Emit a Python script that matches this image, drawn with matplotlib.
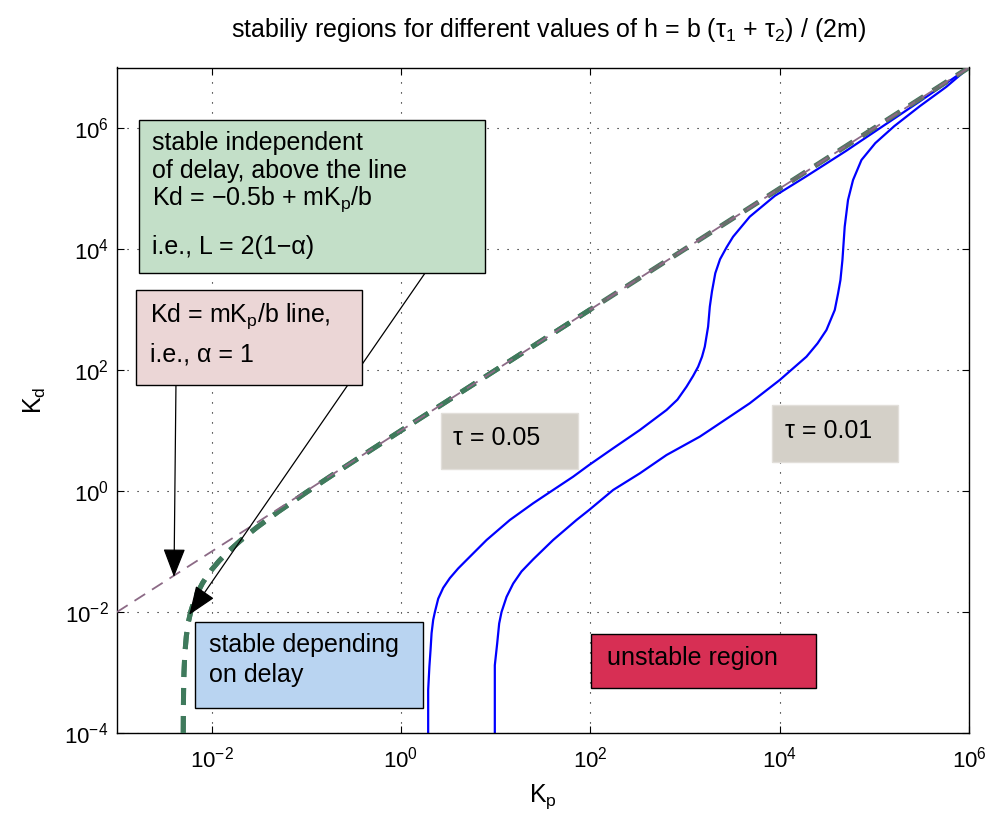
import numpy as np
import matplotlib
matplotlib.use('Agg')
import matplotlib.pyplot as plt
from matplotlib.patches import Rectangle
from matplotlib.ticker import NullLocator, FixedLocator

plt.rcParams['font.family'] = ['Liberation Sans', 'DejaVu Sans']
plt.rcParams['mathtext.fontset'] = 'custom'
plt.rcParams['mathtext.rm'] = 'Liberation Sans'
plt.rcParams['mathtext.it'] = 'Liberation Sans:italic'
plt.rcParams['mathtext.sf'] = 'Liberation Sans'

# stability boundary, tau = 0.05 (log10 Kp, log10 Kd)
tau05_logkp = [0.287, 0.287, 0.300, 0.312, 0.323, 0.340, 0.358, 0.393, 0.446, 0.516, 0.604,
               0.693, 0.904, 1.150, 1.396, 1.607, 1.818, 1.987, 2.241, 2.523, 2.805, 2.92,
               3.016, 3.085, 3.139, 3.18, 3.209, 3.244, 3.262, 3.285, 3.32, 3.37, 3.44, 3.508,
               3.684, 3.95, 4.28, 4.70, 5.09, 5.48, 6.0]
tau05_logkd = [-4.0, -3.29, -2.9, -2.63, -2.35, -2.13, -2.0, -1.78, -1.60, -1.44, -1.28,
               -1.14, -0.81, -0.479, -0.203, 0.017, 0.236, 0.430, 0.706, 1.008, 1.339, 1.51,
               1.724, 1.90, 2.055, 2.22, 2.385, 2.716, 3.046, 3.30, 3.60, 3.83, 4.03, 4.203,
               4.534, 4.88, 5.20, 5.62, 6.03, 6.44, 7.0]

# stability boundary, tau = 0.01
tau01_logkp = [0.991, 0.991, 1.016, 1.037, 1.062, 1.115, 1.185, 1.273, 1.396, 1.607, 1.854,
               1.987, 2.241, 2.523, 2.805, 3.156, 3.262, 3.684, 4.001, 4.283, 4.40, 4.494,
               4.582, 4.617, 4.642, 4.663, 4.687, 4.722, 4.775, 4.864, 5.01, 5.21, 5.48,
               5.76, 6.0]
tau01_logkd = [-4.0, -2.88, -2.52, -2.19, -2.0, -1.75, -1.53, -1.33, -1.13, -0.81, -0.479,
               -0.314, 0.017, 0.292, 0.595, 0.898, 1.008, 1.450, 1.835, 2.220, 2.44, 2.661,
               2.992, 3.267, 3.488, 3.818, 4.369, 4.810, 5.140, 5.471, 5.75, 6.03, 6.36,
               6.68, 7.0]

# Kd = -0.5b + m Kp / b  (delay independent boundary)
indep_kp = [0.00501, 0.00502, 0.00505, 0.0051, 0.0052, 0.0054, 0.0057, 0.006, 0.0065, 0.007,
            0.008, 0.009, 0.01, 0.012, 0.015, 0.02, 0.03, 0.05, 0.1, 0.2, 0.5, 1, 100, 1e6]
indep_kd = [0.0001, 0.0002, 0.0005, 0.001, 0.002, 0.004, 0.007, 0.01, 0.015, 0.02,
            0.03, 0.04, 0.05, 0.07, 0.1, 0.15, 0.25, 0.45, 0.95, 1.95, 4.95, 9.95, 1000, 1e7]
n_green = 23  # part of that line left green on top

# Kd = m Kp / b line
alpha1_kp = [1e-3, 1e6]
alpha1_kd = [1e-2, 1e7]

xticks = [1e-2, 1e0, 1e2, 1e4, 1e6]
yticks = [1e-4, 1e-2, 1e0, 1e2, 1e4, 1e6]

fig = plt.figure(figsize=(9.92, 8.25), dpi=100)
ax = fig.add_axes([117/992, 1-733/825, 852/992, 665.5/825])
ax.set_xscale('log')
ax.set_yscale('log')
ax.set_xlim(1e-3, 1e6)
ax.set_ylim(1e-4, 1e7)

ax.plot(10**np.array(tau05_logkp), 10**np.array(tau05_logkd), color='#0000ff', lw=1.6, zorder=2)
ax.plot(10**np.array(tau01_logkp), 10**np.array(tau01_logkd), color='#0000ff', lw=1.6, zorder=2)

dash = (3.4, 2.2)
ax.plot(indep_kp, indep_kd, color='#3f7a5c', lw=3.6, dashes=dash, zorder=3)
ax.plot(indep_kp, indep_kd, color='#676e6a', lw=2.6, dashes=(3.4*3.6/2.6, 2.2*3.6/2.6), zorder=3.1)
ax.plot(indep_kp[:n_green], indep_kd[:n_green], color='#3f7a5c', lw=3.6, dashes=dash, zorder=3.2)
ax.plot(alpha1_kp, alpha1_kd, color='#8c6a86', lw=1.3, dashes=(7, 4.5), zorder=3.3)

ax.xaxis.set_major_locator(FixedLocator(xticks))
ax.yaxis.set_major_locator(FixedLocator(yticks))
ax.xaxis.set_minor_locator(NullLocator())
ax.yaxis.set_minor_locator(NullLocator())
ax.tick_params(direction='in', length=5, width=0.8, top=True, right=True, labelsize=16)
ax.tick_params(axis='x', pad=10)
ax.tick_params(axis='y', pad=6)
ax.grid(True, color='black', lw=0.8, ls=(0, (1, 8)))
for s in ax.spines.values():
    s.set_linewidth(1.0)

fig.text(0.553, 1-30/825, r'stabiliy regions for different values of h = b (τ$_1$ + τ$_2$) / (2m)',
         ha='center', va='center', fontsize=18)
fig.text(543/992, 1-797/825, r'K$_\mathrm{p}$', ha='center', va='center', fontsize=18)
fig.text(35/992, 1-400/825, r'K$_\mathrm{d}$', ha='center', va='center', fontsize=18, rotation=90)

def box(x0, x1, y0, y1, fc, ec='black'):
    ax.add_patch(Rectangle((x0, y0), x1-x0, y1-y0, transform=ax.transAxes, fc=fc, ec=ec,
                           lw=1.0, zorder=5))

fs = 18
box(0.0258, 0.432, 0.691, 0.921, '#c3dfc8')
for t, y in [('stable independent', 0.876), ('of delay, above the line', 0.834),
             (r'Kd = −0.5b + mK$_\mathrm{p}$/b', 0.793), ('i.e., L = 2(1−α)', 0.720)]:
    ax.text(0.041, y, t, transform=ax.transAxes, fontsize=fs, va='baseline', zorder=6)

box(0.0223, 0.2876, 0.523, 0.666, '#ebd6d6')
ax.text(0.0387, 0.6176, r'Kd = mK$_\mathrm{p}$/b line,', transform=ax.transAxes, fontsize=fs,
        va='baseline', zorder=6)
ax.text(0.0387, 0.5575, 'i.e., α = 1', transform=ax.transAxes, fontsize=fs, va='baseline', zorder=6)

box(0.0915, 0.359, 0.0376, 0.1668, '#b9d4f1')
ax.text(0.108, 0.1217, 'stable depending', transform=ax.transAxes, fontsize=fs, va='baseline', zorder=6)
ax.text(0.108, 0.0766, 'on delay', transform=ax.transAxes, fontsize=fs, va='baseline', zorder=6)

box(0.380, 0.541, 0.397, 0.481, '#d4d0c8', ec='#e2dfda')
ax.text(0.394, 0.4328, 'τ = 0.05', transform=ax.transAxes, fontsize=fs, va='baseline', zorder=6)
box(0.769, 0.917, 0.407, 0.493, '#d4d0c8', ec='#e2dfda')
ax.text(0.784, 0.4433, 'τ = 0.01', transform=ax.transAxes, fontsize=fs, va='baseline', zorder=6)

box(0.556, 0.820, 0.0676, 0.149, '#d72f54')
ax.text(0.575, 0.102, 'unstable region', transform=ax.transAxes, fontsize=fs, va='baseline', zorder=6)

aprops = dict(arrowstyle='-|>,head_length=0.9,head_width=0.35', color='black', lw=0.9,
              shrinkA=0, shrinkB=0, mutation_scale=20)
ax.annotate('', xy=(0.004, 0.038), xycoords='data', xytext=(0.0692, 0.523),
            textcoords='axes fraction', arrowprops=aprops, zorder=4)
ax.annotate('', xy=(0.0058, 0.009), xycoords='data', xytext=(0.3615, 0.691),
            textcoords='axes fraction', arrowprops=aprops, zorder=4)

fig.savefig('out.png', dpi=100)
